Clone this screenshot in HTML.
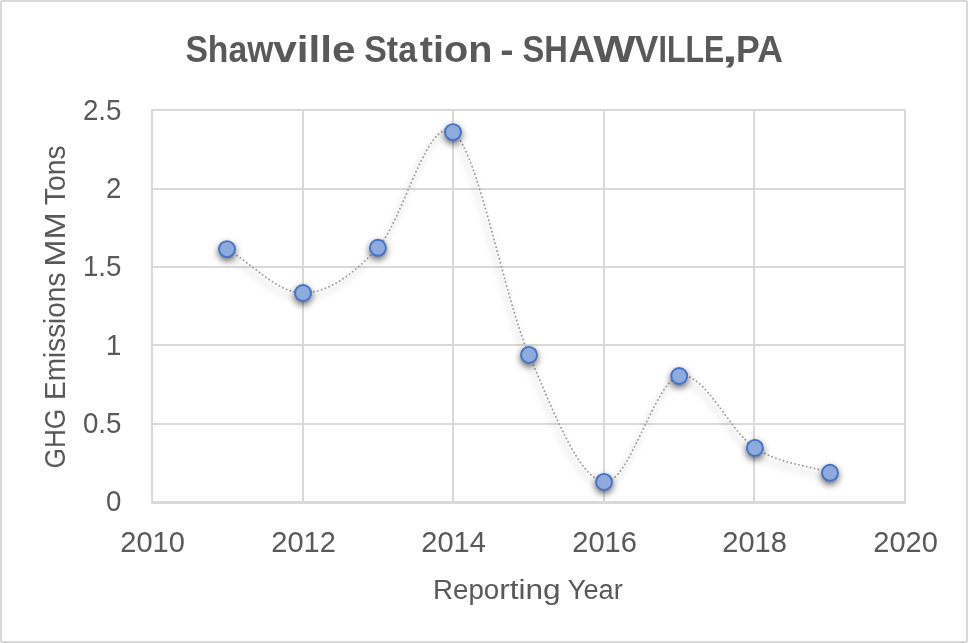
<!DOCTYPE html>
<html lang="en">
<head>
<meta charset="utf-8">
<title>Shawville Station - SHAWVILLE,PA</title>
<style>
html,body{margin:0;padding:0;background:#fff;}
body{width:968px;height:643px;overflow:hidden;}
svg{display:block;}
text{font-family:"Liberation Sans",sans-serif;fill:#595959;}
.title{font-weight:bold;}
</style>
</head>
<body>
<svg width="968" height="643" viewBox="0 0 968 643">
<defs>
<filter id="sh" x="-50%" y="-50%" width="200%" height="200%" color-interpolation-filters="sRGB">
<feGaussianBlur in="SourceAlpha" stdDeviation="3.8"/>
<feOffset dx="0" dy="3" result="b"/>
<feComponentTransfer><feFuncA type="linear" slope="0.6"/></feComponentTransfer>
<feMerge><feMergeNode/><feMergeNode in="SourceGraphic"/></feMerge>
</filter>
<filter id="shl" filterUnits="userSpaceOnUse" x="150" y="90" width="760" height="430" color-interpolation-filters="sRGB">
<feGaussianBlur in="SourceAlpha" stdDeviation="3.5"/>
<feOffset dx="-2" dy="5" result="b"/>
<feComponentTransfer><feFuncA type="linear" slope="0.5"/></feComponentTransfer>
<feMerge><feMergeNode/><feMergeNode in="SourceGraphic"/></feMerge>
</filter>
</defs>
<rect x="0" y="0" width="968" height="643" fill="#ffffff"/>
<rect x="1" y="1" width="966" height="641" rx="1.5" fill="none" stroke="#d9d9d9" stroke-width="2"/>
<g stroke="#d9d9d9" stroke-width="2" fill="none" stroke-linecap="round">
<line x1="152" y1="110" x2="152" y2="502"/>
<line x1="303" y1="110" x2="303" y2="502"/>
<line x1="453" y1="110" x2="453" y2="502"/>
<line x1="604" y1="110" x2="604" y2="502"/>
<line x1="754" y1="110" x2="754" y2="502"/>
<line x1="905" y1="110" x2="905" y2="502"/>
<line x1="152" y1="110" x2="905" y2="110"/>
<line x1="152" y1="189" x2="905" y2="189"/>
<line x1="152" y1="267" x2="905" y2="267"/>
<line x1="152" y1="345" x2="905" y2="345"/>
<line x1="152" y1="424" x2="905" y2="424"/>
<line x1="151.5" y1="502.5" x2="905.5" y2="502.5" stroke-width="3" stroke-linecap="butt"/>
</g>
<path d="M227.00 249.10 C252.33 263.73 277.85 293.22 303.00 293.00 C328.15 292.78 352.90 274.62 377.90 247.80 C402.90 220.98 427.82 114.25 453.00 132.10 C478.18 149.95 503.83 296.60 529.00 354.90 C554.17 413.20 578.97 478.38 604.00 481.90 C629.03 485.42 654.05 381.67 679.20 376.00 C704.35 370.33 729.77 431.77 754.90 447.90 C780.03 464.03 804.97 464.50 830.00 472.80" fill="none" stroke="#979797" stroke-width="1.9" stroke-linecap="round" stroke-dasharray="0 4" filter="url(#shl)"/>
<g fill="#8faadc" stroke="#4472c4" stroke-width="1.9" filter="url(#sh)">
<circle cx="227.0" cy="249.1" r="8"/>
<circle cx="303.0" cy="293.0" r="8"/>
<circle cx="377.9" cy="247.8" r="8"/>
<circle cx="453.0" cy="132.1" r="8"/>
<circle cx="529.0" cy="354.9" r="8"/>
<circle cx="604.0" cy="481.9" r="8"/>
<circle cx="679.2" cy="376.0" r="8"/>
<circle cx="754.9" cy="447.9" r="8"/>
<circle cx="830.0" cy="472.8" r="8"/>
</g>
<text class="title" y="62.1" font-size="37"><tspan x="185.40" textLength="88.01" lengthAdjust="spacingAndGlyphs">Shaw</tspan><tspan x="273.15" textLength="82.39" lengthAdjust="spacingAndGlyphs">ville</tspan> <tspan x="364.30" textLength="52.66" lengthAdjust="spacingAndGlyphs">Sta</tspan><tspan x="419.80" textLength="72.57" lengthAdjust="spacingAndGlyphs">tion</tspan> <tspan x="500.20" textLength="13.31" lengthAdjust="spacingAndGlyphs">-</tspan> <tspan x="522.40" textLength="45.32" lengthAdjust="spacingAndGlyphs">SH</tspan><tspan x="568.60" textLength="26.36" lengthAdjust="spacingAndGlyphs">A</tspan><tspan x="593.20" textLength="42.35" lengthAdjust="spacingAndGlyphs">W</tspan><tspan x="634.65" textLength="23.52" lengthAdjust="spacingAndGlyphs">V</tspan><tspan x="658.50" textLength="65.76" lengthAdjust="spacingAndGlyphs">ILLE</tspan><tspan x="721.90" textLength="15.62" lengthAdjust="spacingAndGlyphs">,</tspan><tspan x="736.10" textLength="46.80" lengthAdjust="spacingAndGlyphs">PA</tspan></text>
<text x="121.4" y="119.6" font-size="29.5" text-anchor="end" textLength="38.5" lengthAdjust="spacingAndGlyphs">2.5</text>
<text x="121.4" y="197.9" font-size="29.5" text-anchor="end" textLength="15.4" lengthAdjust="spacingAndGlyphs">2</text>
<text x="121.4" y="276.2" font-size="29.5" text-anchor="end" textLength="38.5" lengthAdjust="spacingAndGlyphs">1.5</text>
<text x="121.4" y="354.5" font-size="29.5" text-anchor="end" textLength="15.4" lengthAdjust="spacingAndGlyphs">1</text>
<text x="121.4" y="432.8" font-size="29.5" text-anchor="end" textLength="38.5" lengthAdjust="spacingAndGlyphs">0.5</text>
<text x="121.4" y="511.1" font-size="29.5" text-anchor="end" textLength="15.4" lengthAdjust="spacingAndGlyphs">0</text>
<text x="152.6" y="552.3" font-size="29.3" text-anchor="middle" textLength="64.6" lengthAdjust="spacingAndGlyphs">2010</text>
<text x="303.6" y="552.3" font-size="29.3" text-anchor="middle" textLength="64.6" lengthAdjust="spacingAndGlyphs">2012</text>
<text x="453.6" y="552.3" font-size="29.3" text-anchor="middle" textLength="64.6" lengthAdjust="spacingAndGlyphs">2014</text>
<text x="604.6" y="552.3" font-size="29.3" text-anchor="middle" textLength="64.6" lengthAdjust="spacingAndGlyphs">2016</text>
<text x="754.6" y="552.3" font-size="29.3" text-anchor="middle" textLength="64.6" lengthAdjust="spacingAndGlyphs">2018</text>
<text x="905.6" y="552.3" font-size="29.3" text-anchor="middle" textLength="64.6" lengthAdjust="spacingAndGlyphs">2020</text>
<text y="599.4" font-size="27"><tspan x="432.95" textLength="66.32" lengthAdjust="spacingAndGlyphs">Repo</tspan><tspan x="499.20" textLength="61.43" lengthAdjust="spacingAndGlyphs">rting</tspan> <tspan x="567.85" textLength="54.88" lengthAdjust="spacingAndGlyphs">Year</tspan></text>
<text transform="translate(65.1 567.2) rotate(-90)" y="0" font-size="29.5"><tspan x="98.75" textLength="59.67" lengthAdjust="spacingAndGlyphs">GHG</tspan> <tspan x="167.25" textLength="127.34" lengthAdjust="spacingAndGlyphs">Emissions</tspan> <tspan x="300.45" textLength="54.43" lengthAdjust="spacingAndGlyphs">MM</tspan> <tspan x="362.05" textLength="59.70" lengthAdjust="spacingAndGlyphs">Tons</tspan></text>
</svg>
</body>
</html>
